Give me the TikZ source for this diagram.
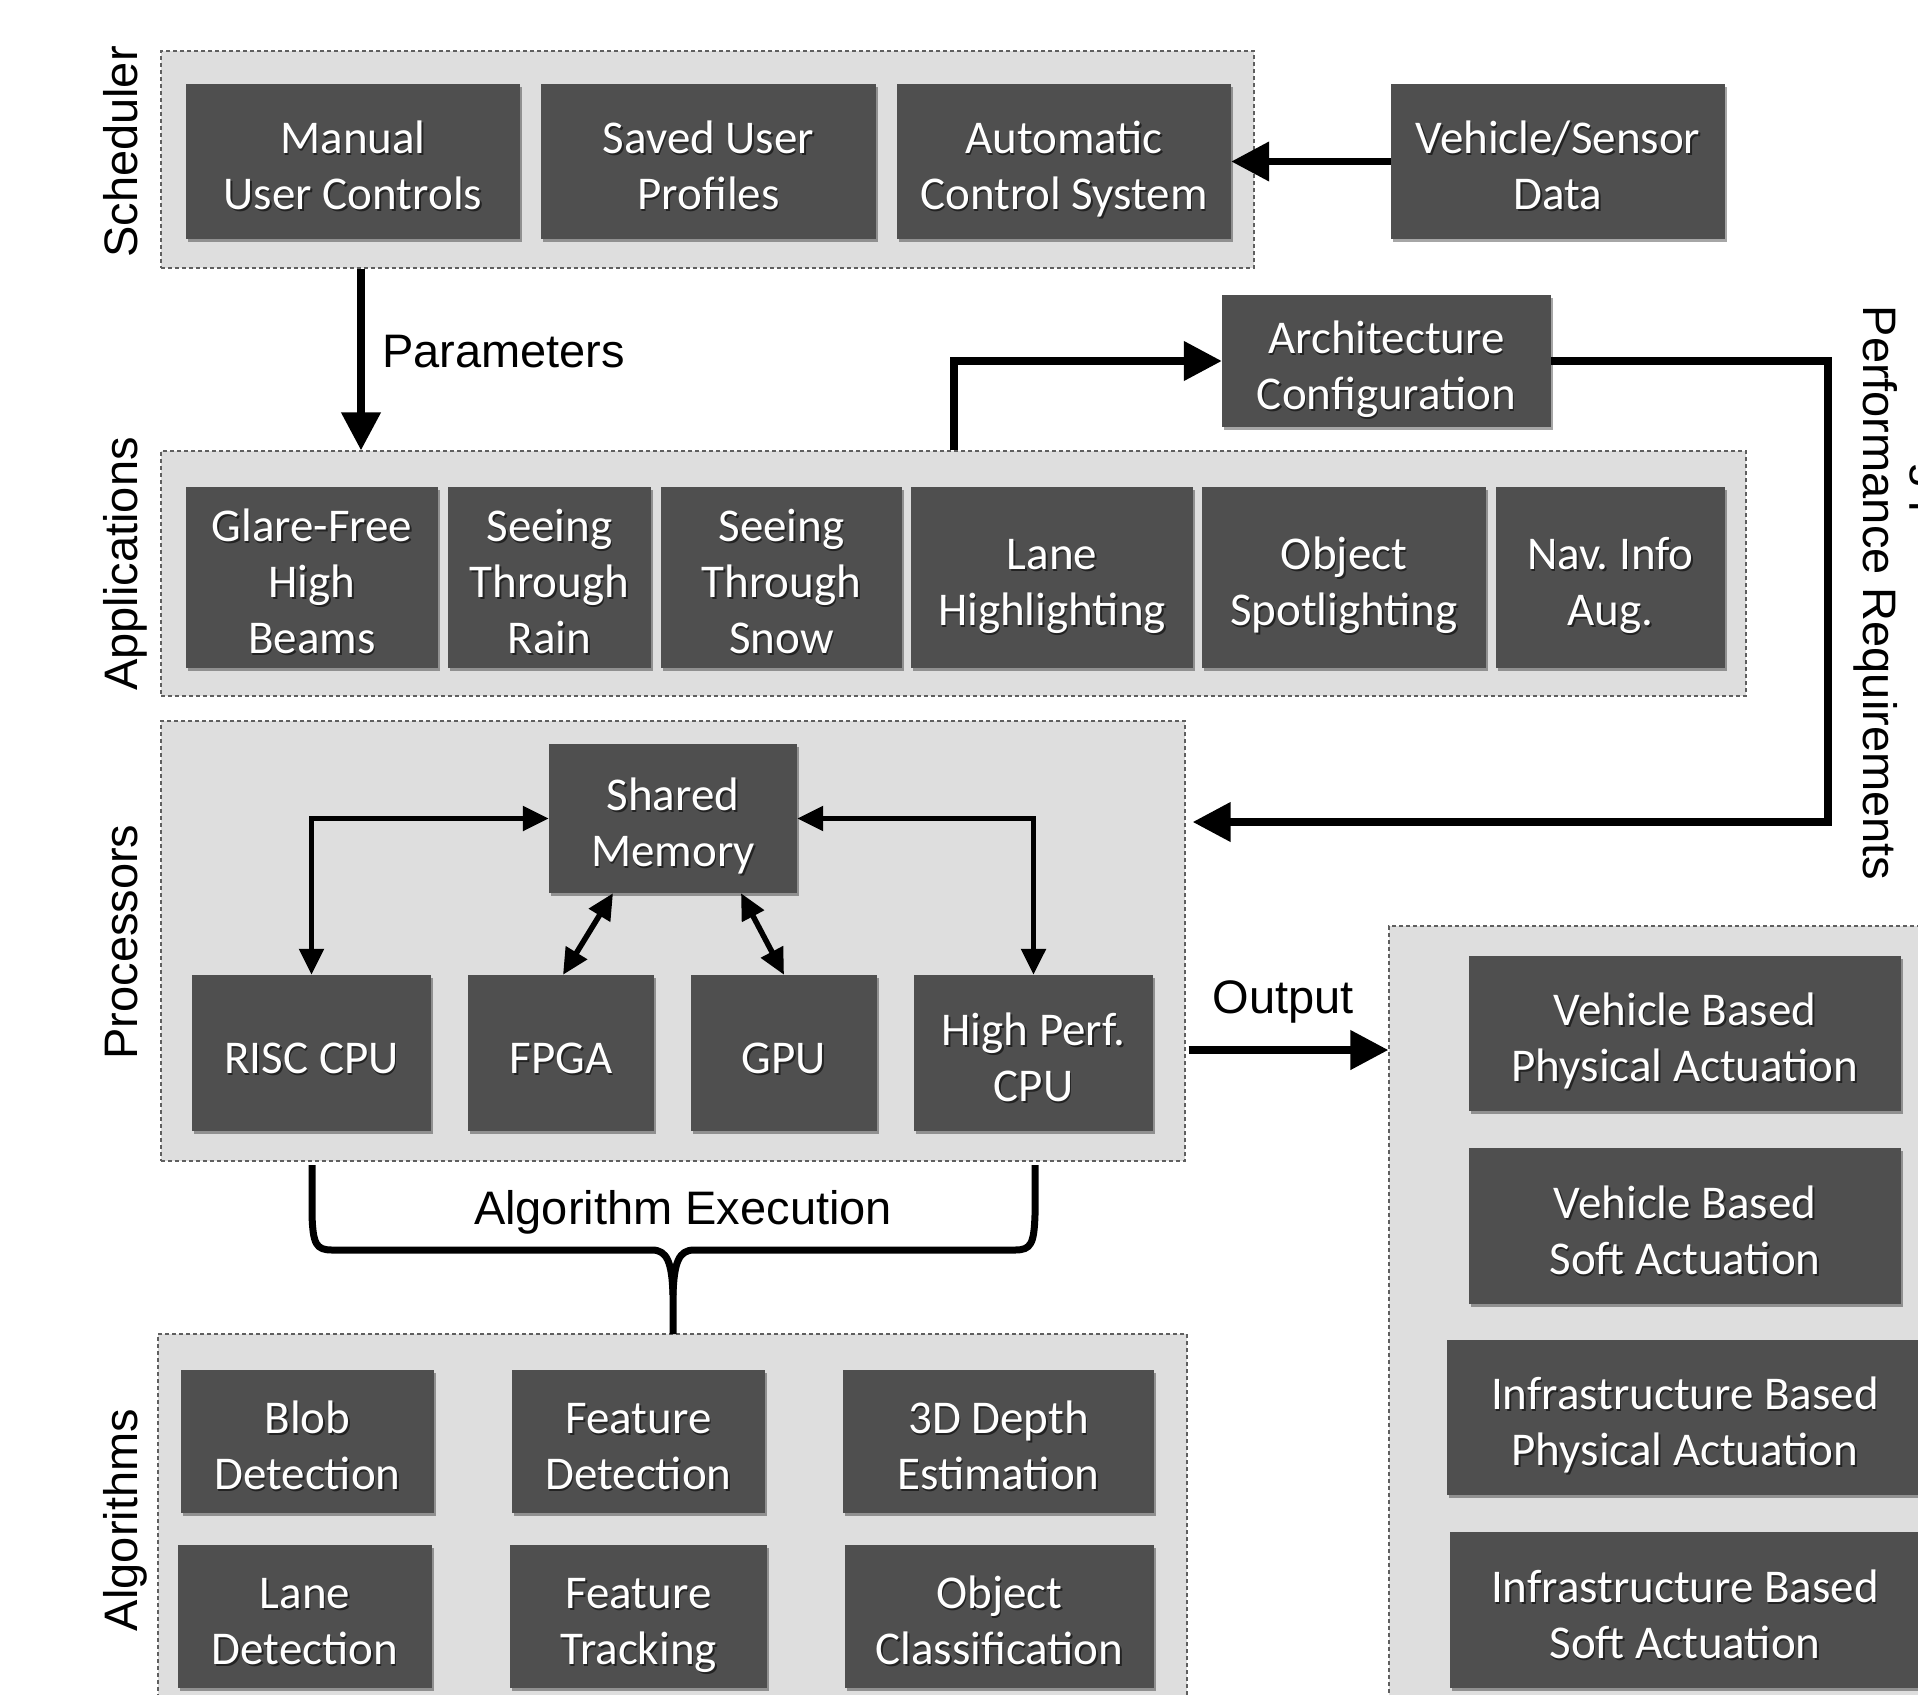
\documentclass[tikz,border=0pt]{standalone}
\usepackage{fontspec}
\setmainfont{Liberation Sans}
\newfontfamily\carlito{Carlito}
\usetikzlibrary{arrows.meta,shadows,calc}
\definecolor{boxc}{RGB}{79,79,79}
\definecolor{contc}{RGB}{222,222,222}
\definecolor{dashc}{RGB}{95,95,95}
\tikzset{
 cont/.style={draw=dashc, fill=contc, line width=1.3pt, dash pattern=on 4pt off 3pt, inner sep=0pt},
 dbox/.style={fill=boxc, inner sep=0pt, drop shadow={shadow xshift=2pt, shadow yshift=-3pt, opacity=0.35, fill=black}},
 btxt/.style={text=white, font=\carlito\fontsize{47}{56}\selectfont, align=center, inner sep=0pt,
   execute at end node={\rule[-12pt]{0pt}{12pt}}},
 bshd/.style={btxt, text=black, text opacity=0.55},
 lbl/.style={font=\fontsize{47}{54}\selectfont, inner sep=0pt},
 bigarr/.style={line width=7.5pt, -{Triangle[length=38pt,width=38pt]}},
 smarr/.style={line width=5.5pt, {Triangle[length=26pt,width=24pt]}-{Triangle[length=26pt,width=24pt]}},
 bracestyle/.style={line width=7pt, line join=round},
}
\newcommand\dbox[6]{%
 \node[dbox, minimum width={(#4)-(#2)}, minimum height={(#5)-(#3)}] (#1) at ({((#2)+(#4))/2},{((#3)+(#5))/2}) {};
 \node[bshd] at ([shift={(1.5,2)}]#1.center) {\rule{0pt}{52pt}#6};
 \node[btxt] at (#1.center) {\rule{0pt}{52pt}#6};}
\newcommand\contbox[5]{%
 \node[cont, minimum width={(#4)-(#2)}, minimum height={(#5)-(#3)}] (#1) at ({((#2)+(#4))/2},{((#3)+(#5))/2}) {};}
\begin{document}
\frenchspacing
\begin{tikzpicture}[x=1pt,y=-1pt]
\fill[white] (0,0) rectangle (1918,1694);
\useasboundingbox (0,0) rectangle (1918,1694);
% containers
\contbox{sched}{161}{51}{1254}{268}
\contbox{apps}{161}{451}{1746}{696}
\contbox{proc}{161}{721}{1185}{1161}
\contbox{algo}{158}{1334}{1187}{1730}
\contbox{act}{1389}{926}{1960}{1730}
% scheduler
\dbox{manual}{186}{84}{520}{239}{Manual\\User Controls}
\dbox{saved}{541}{84}{876}{239}{Saved User\\Profiles}
\dbox{auto}{897}{84}{1231}{239}{Automatic\\Control System}
\dbox{veh}{1391}{84}{1725}{239}{Vehicle/Sensor\\Data}
\dbox{arch}{1222}{295}{1551}{427}{Architecture\\Configuration}
% applications
\dbox{glare}{186}{487}{438}{668}{Glare-Free\\High\\Beams}
\dbox{rain}{448}{487}{651}{668}{Seeing\\Through\\Rain}
\dbox{snow}{661}{487}{902}{668}{Seeing\\Through\\Snow}
\dbox{laneh}{911}{487}{1193}{668}{Lane\\Highlighting}
\dbox{objs}{1202}{487}{1486}{668}{Object\\Spotlighting}
\dbox{nav}{1496}{487}{1725}{668}{Nav. Info\\Aug.}
% processors
\dbox{sm}{549}{744}{797}{893}{Shared\\Memory}
\dbox{risc}{192}{975}{431}{1131}{RISC CPU}
\dbox{fpga}{468}{975}{654}{1131}{FPGA}
\dbox{gpu}{691}{975}{877}{1131}{GPU}
\dbox{hp}{914}{975}{1153}{1131}{High Perf.\\CPU}
% algorithms
\dbox{blob}{181}{1370}{434}{1513}{Blob\\Detection}
\dbox{fdet}{512}{1370}{765}{1513}{Feature\\Detection}
\dbox{depth}{843}{1370}{1154}{1513}{3D Depth\\Estimation}
\dbox{lanedet}{178}{1545}{432}{1688}{Lane\\Detection}
\dbox{ftrack}{510}{1545}{767}{1688}{Feature\\Tracking}
\dbox{objc}{845}{1545}{1154}{1688}{Object\\Classification}
% actuation
\dbox{vbp}{1469}{956}{1901}{1111}{Vehicle Based\\Physical Actuation}
\dbox{vbs}{1469}{1148}{1901}{1304}{Vehicle Based\\Soft Actuation}
\dbox{ibp}{1447}{1340}{1923}{1495}{Infrastructure Based\\Physical Actuation}
\dbox{ibs}{1450}{1532}{1920}{1688}{Infrastructure Based\\Soft Actuation}
% side labels
\node[lbl, rotate=90, anchor=base] (lsched) at (137,152) {Scheduler};
\node[lbl, rotate=90, anchor=base] (lapps) at (137,564) {Applications};
\node[lbl, rotate=90, anchor=base] (lproc) at (137,942) {Processors};
\node[lbl, rotate=90, anchor=base] (lalgo) at (137,1520) {Algorithms};
\node[lbl, rotate=-90, anchor=base] (lperf) at (1863,593) {Performance Requirements};
\node[lbl, rotate=-90, anchor=base west] (lperfa) at (1919,256) {Scheduling parameters and};
\node[lbl, anchor=base west] (lparam) at (382,367) {Parameters};
\node[lbl, anchor=base] (lout) at (1283,1013) {Output};
\node[lbl, anchor=base] (lalgex) at (683,1224) {Algorithm Execution};
% connectors
\coordinate (px) at (361,0);
\draw[bigarr] (px |- sched.south) -- (px |- apps.north);
\draw[bigarr] (veh.west) -- (auto.east);
\coordinate (ax) at (954,0);
\draw[bigarr] (ax |- apps.north) |- (arch.west);
\coordinate (fbx) at (1828,0);
\coordinate (fby) at (0,822);
\coordinate (pe) at ([xshift=7pt]proc.east);
\draw[bigarr] (arch.east) -| (fbx |- fby) -- (pe |- fby);
\coordinate (oy) at (0,1050);
\coordinate (pe2) at ([xshift=3pt]proc.east);
\draw[bigarr] (pe2 |- oy) -- (act.west |- oy);
\draw[smarr] (risc.north) |- (sm.west);
\draw[smarr] (hp.north) |- (sm.east);
\draw[smarr] ([xshift=-60pt]sm.south) -- ([xshift=2pt]fpga.north);
\draw[smarr] ([xshift=68pt]sm.south) -- (gpu.north);
% brace
\draw[bracestyle] (312,1165) -- (312,1215) .. controls (313,1244) and (316,1250) .. (332,1250) -- (652,1250) .. controls (667,1250) and (672,1262) .. (673,1295) -- (673,1334);
\draw[bracestyle] (1035,1165) -- (1035,1215) .. controls (1034,1244) and (1031,1250) .. (1015,1250) -- (694,1250) .. controls (679,1250) and (674,1262) .. (673,1295);
\end{tikzpicture}
\end{document}
